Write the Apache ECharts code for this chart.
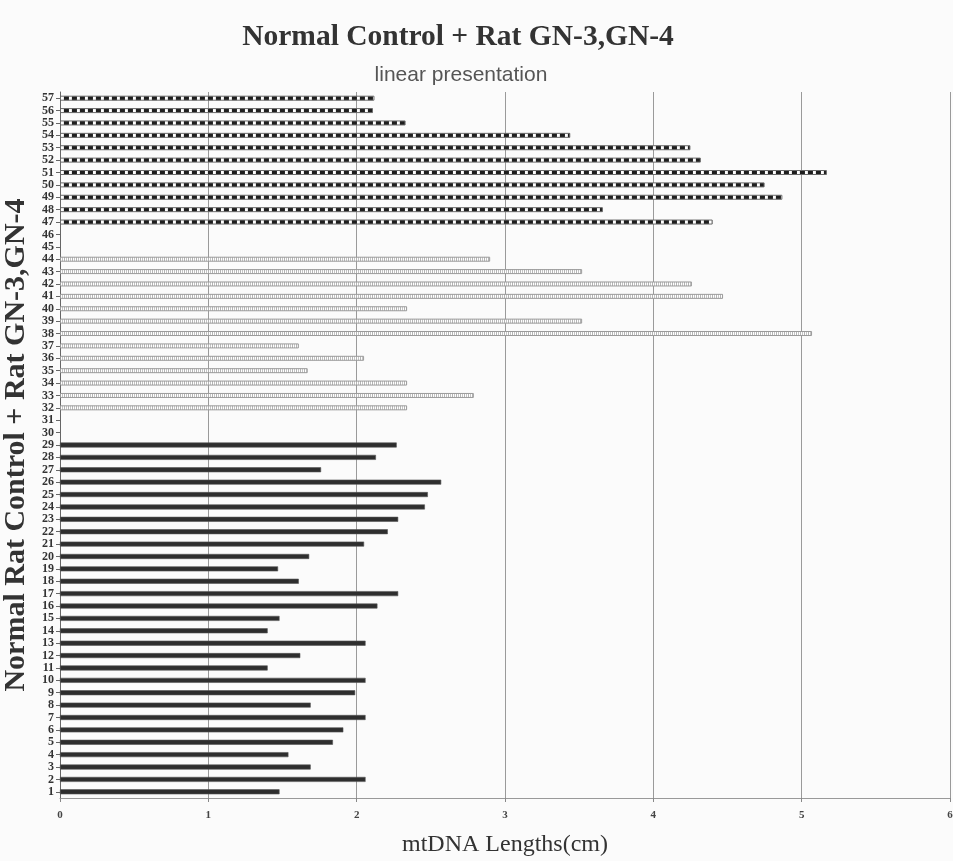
<!DOCTYPE html>
<html>
<head>
<meta charset="utf-8">
<title>mtDNA Lengths</title>
<script src="https://cdn.jsdelivr.net/npm/echarts@6/dist/echarts.min.js"></script>
<style>
  html, body { margin: 0; padding: 0; background: #fbfbfb; }
  #chart { width: 953px; height: 861px; }
</style>
</head>
<body>
<div id="chart"></div>
<script>
// Row labels on the vertical axis (one per measured molecule slot)
const rowLabels = [
  '1','2','3','4','5','6','7','8','9','10',
  '11','12','13','14','15','16','17','18','19','20',
  '21','22','23','24','25','26','27','28','29','30',
  '31','32','33','34','35','36','37','38','39','40',
  '41','42','43','44','45','46','47','48','49','50',
  '51','52','53','54','55','56','57'
];

// Normal control rat: rows 1-29
const controlRows = [
  '1','2','3','4','5','6','7','8','9','10',
  '11','12','13','14','15','16','17','18','19','20',
  '21','22','23','24','25','26','27','28','29'
];
const controlLengths = [
  1.48, 2.06, 1.69, 1.54, 1.84, 1.91, 2.06, 1.69, 1.99, 2.06,
  1.40, 1.62, 2.06, 1.40, 1.48, 2.14, 2.28, 1.61, 1.47, 1.68,
  2.05, 2.21, 2.28, 2.46, 2.48, 2.57, 1.76, 2.13, 2.27
];

// Rat GN-3: rows 32-44
const gn3Rows = ['32','33','34','35','36','37','38','39','40','41','42','43','44'];
const gn3Lengths = [2.34, 2.79, 2.34, 1.67, 2.05, 1.61, 5.07, 3.52, 2.34, 4.47, 4.26, 3.52, 2.90];

// Rat GN-4: rows 47-57
const gn4Rows = ['47','48','49','50','51','52','53','54','55','56','57'];
const gn4Lengths = [4.40, 3.66, 4.87, 4.75, 5.17, 4.32, 4.25, 3.44, 2.33, 2.11, 2.12];

// x-axis tick values (cm)
const xTicks = [0, 1, 2, 3, 4, 5, 6];

// Small repeating fills for the hatched bars
function makePattern(cells) {
  const c = document.createElement('canvas');
  c.width = cells.length;
  c.height = 1;
  const ctx = c.getContext('2d');
  cells.forEach(function (col, i) {
    ctx.fillStyle = col;
    ctx.fillRect(i, 0, 1, 1);
  });
  return { image: c, repeat: 'repeat' };
}
const dashFill = makePattern(['#1e1e1e','#1e1e1e','#1e1e1e','#1e1e1e','#2a2a2a','#ffffff','#ffffff','#e8e8e8']);
const dotFill = makePattern(['#b4b4b4','#ffffff','#c4c4c4','#ffffff']);

function pairs(rows, vals) {
  return rows.map(function (r, i) { return [vals[i], r]; });
}

const serif = '"Liberation Serif", "Times New Roman", serif';

const chart = echarts.init(document.getElementById('chart'), null, { renderer: 'canvas' });

chart.setOption({
  backgroundColor: '#fbfbfb',
  animation: false,
  title: [
    {
      text: 'Normal Control + Rat GN-3,GN-4',
      left: 453,
      top: 17,
      textAlign: 'center',
      textStyle: { fontFamily: serif, fontWeight: 'bold', fontSize: 29.5, color: '#333' }
    },
    {
      text: 'linear presentation',
      left: 456,
      top: 60,
      textAlign: 'center',
      textStyle: { fontFamily: '"Liberation Sans", Arial, sans-serif', fontWeight: 'normal', fontSize: 21, color: '#555' }
    }
  ],
  grid: { left: 60, right: 3, top: 92, bottom: 63, containLabel: false, outerBoundsMode: 'none' },
  xAxis: {
    type: 'value',
    min: xTicks[0],
    max: xTicks[xTicks.length - 1],
    interval: 1,
    name: 'mtDNA Lengths(cm)',
    nameLocation: 'middle',
    nameGap: 35,
    nameTextStyle: { fontFamily: serif, fontSize: 24, color: '#333' },
    axisLine: { show: true, lineStyle: { color: '#999', width: 1 } },
    axisTick: { show: true, length: 4, lineStyle: { color: '#888' } },
    axisLabel: { fontFamily: serif, fontWeight: 'bold', fontSize: 11, color: '#444', margin: 12 },
    splitLine: { show: true, lineStyle: { color: '#9a9a9a', width: 1 } }
  },
  yAxis: {
    type: 'category',
    data: rowLabels,
    boundaryGap: true,
    name: 'Normal Rat Control + Rat GN-3,GN-4',
    nameLocation: 'middle',
    nameGap: 23,
    nameRotate: 90,
    nameTextStyle: { fontFamily: serif, fontWeight: 'bold', fontSize: 30, color: '#333' },
    axisLine: { show: true, lineStyle: { color: '#666', width: 1 } },
    axisTick: { show: true, length: 4, alignWithLabel: true, lineStyle: { color: '#666' } },
    axisLabel: { fontFamily: serif, fontWeight: 'bold', fontSize: 12, color: '#333', margin: 6, interval: 0 },
    splitLine: { show: false }
  },
  series: [
    {
      name: 'Normal Control',
      type: 'bar',
      barWidth: 5,
      barGap: '-100%',
      data: pairs(controlRows, controlLengths),
      itemStyle: { color: '#2e2e2e', borderColor: '#555', borderWidth: 0.6 }
    },
    {
      name: 'Rat GN-3',
      type: 'bar',
      barWidth: 5,
      barGap: '-100%',
      data: pairs(gn3Rows, gn3Lengths),
      itemStyle: { color: dotFill, borderColor: '#9a9a9a', borderWidth: 1 }
    },
    {
      name: 'Rat GN-4',
      type: 'bar',
      barWidth: 5,
      barGap: '-100%',
      data: pairs(gn4Rows, gn4Lengths),
      itemStyle: { color: dashFill, borderColor: '#6a6a6a', borderWidth: 1 }
    }
  ]
});
</script>
</body>
</html>
